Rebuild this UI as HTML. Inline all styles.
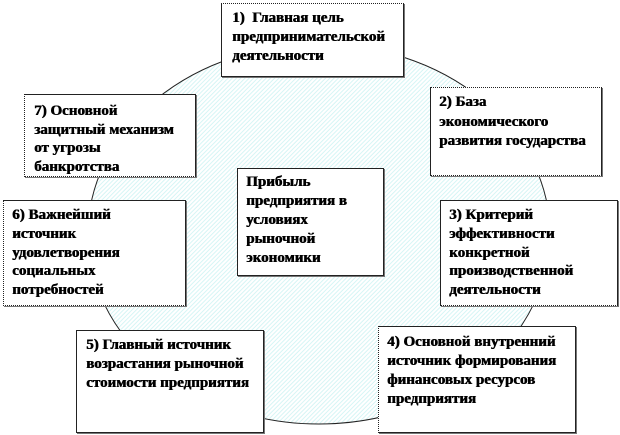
<!DOCTYPE html>
<html><head><meta charset="utf-8">
<style>
html,body{margin:0;padding:0;background:#fff;}
#c{position:relative;width:620px;height:435px;overflow:hidden;background:#fff;}
svg{position:absolute;left:0;top:0;}
.b{position:absolute;box-sizing:border-box;background:#fff;border:1px solid #222;box-shadow:1px 1px 0 #777;}
.t{position:absolute;white-space:nowrap;font:bold 15px/19px "Liberation Serif","Noto Serif CJK SC",serif;color:#000;text-shadow:.6px 0 0 #000;}
</style></head><body><div id="c">
<svg width="620" height="435">
<defs><pattern id="h" width="3" height="3" patternUnits="userSpaceOnUse" patternTransform="rotate(45)"><rect width="3" height="3" fill="#fff"/><rect width="1" height="3" fill="#d6f5f5"/></pattern></defs>
<ellipse cx="319" cy="234" rx="231" ry="190" fill="url(#h)" stroke="#222" stroke-width="1"/>
</svg>
<div class="b" style="left:221px;top:3px;width:183px;height:74px;border-top-style:dotted"></div>
<div class="t" style="left:232px;top:9px">1)&nbsp; Главная цель<br>предпринимательской<br>деятельности</div>
<div class="b" style="left:430px;top:87px;width:172px;height:89px;border-top-style:dotted;border-bottom-style:dotted"></div>
<div class="t" style="left:439px;top:93px;line-height:19.5px">2) База<br>экономического<br>развития государства</div>
<div class="b" style="left:440px;top:200px;width:178px;height:106px;border-bottom-style:dotted"></div>
<div class="t" style="left:449px;top:206px;line-height:18.8px">3) Критерий<br>эффективности<br>конкретной<br>производственной<br>деятельности</div>
<div class="b" style="left:378px;top:326px;width:198px;height:107px;border-left-style:dotted"></div>
<div class="t" style="left:387px;top:333px">4) Основной внутренний<br>источник формирования<br>финансовых ресурсов<br>предприятия</div>
<div class="b" style="left:76px;top:330px;width:188px;height:103px"></div>
<div class="t" style="left:86px;top:336px">5) Главный источник<br>возрастания рыночной<br>стоимости предприятия</div>
<div class="b" style="left:3px;top:200px;width:183px;height:106px;border-left-style:dotted;border-bottom-style:dotted"></div>
<div class="t" style="left:12px;top:206px;line-height:18.8px">6) Важнейший<br>источник<br>удовлетворения<br>социальных<br>потребностей</div>
<div class="b" style="left:24px;top:94px;width:172px;height:83px;border-left-style:dotted;border-bottom-style:dotted"></div>
<div class="t" style="left:34px;top:102px;line-height:18.5px">7) Основной<br>защитный механизм<br>от угрозы<br>банкротства</div>
<div class="b" style="left:237px;top:168px;width:147px;height:108px"></div>
<div class="t" style="left:246px;top:173px">Прибыль<br>предприятия в<br>условиях<br>рыночной<br>экономики</div>
</div></body></html>
